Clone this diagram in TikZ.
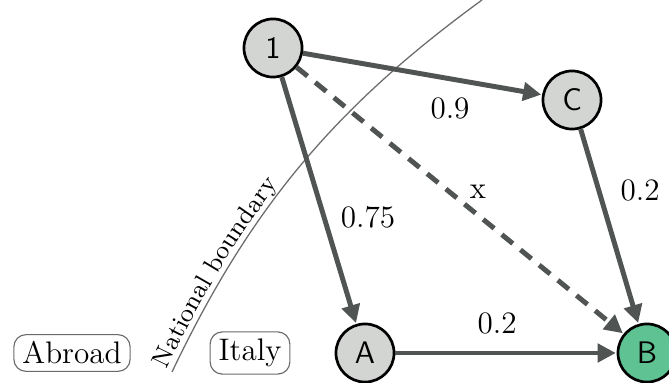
\documentclass[tikz,border=0pt]{standalone}
\usepackage{xcolor}
\usetikzlibrary{arrows.meta,positioning,decorations.text}
\definecolor{edgegray}{HTML}{505553}
\definecolor{nodegray}{HTML}{D3D5D2}
\definecolor{nodegreen}{HTML}{5EC293}
\definecolor{boxgray}{HTML}{6A6A6A}

\begin{document}
\begin{tikzpicture}[x=0.353pt, y=-0.353pt, font=\fontsize{11}{13}\selectfont]
  \tikzset{
    place/.style={circle, draw=black, line width=0.95pt, fill=nodegray, minimum size=20.5pt, inner sep=0pt, font=\sffamily\fontsize{11}{13}\selectfont},
    flow/.style={-{Triangle[length=6.4pt, width=6.4pt]}, line width=1.75pt, edgegray, shorten >=0.3pt},
    region/.style={draw=boxgray, rounded corners=1.5mm, thin, inner xsep=3pt, inner ysep=2.5pt}
  }
  \useasboundingbox (0,0) rectangle (669,383);
  % boundary between the two regions
  \draw[gray!85!black, line width=0.45pt] (172,372) .. controls (252,204) and (338,105) .. (482,0);
  \path[decorate, decoration={text along path, raise=2pt,
      text={|\fontsize{9}{11}\selectfont|National boundary},
      text align={left indent=0pt}}]
    (172,372) .. controls (252,204) and (338,105) .. (482,0);
  \node[region] (abroad) at (72,353) {Abroad};
  \node[region] (italy) at (250,353) {Italy};
  % places
  \node[place] (one) at (273,48) {1};
  \node[place] (c) at (572,100) {C};
  \node[place] (a) at (365,353) {A};
  \node[place, fill=nodegreen] (b) at (647,353) {B};
  % flows
  \draw[flow] (one) -- (c);
  \draw[flow] (one) -- (a);
  \draw[flow, dash pattern=on 5pt off 3.5pt] (one) -- (b);
  \draw[flow] (c) -- (b);
  \draw[flow] (a) -- (b);
  \node (l1c) at (450,108) {0.9};
  \node (l1a) at (368,217) {0.75};
  \node (l1b) at (478,192) {x};
  \node (lcb) at (640,190) {0.2};
  \node (lab) at (497,323) {0.2};
\end{tikzpicture}
\end{document}
